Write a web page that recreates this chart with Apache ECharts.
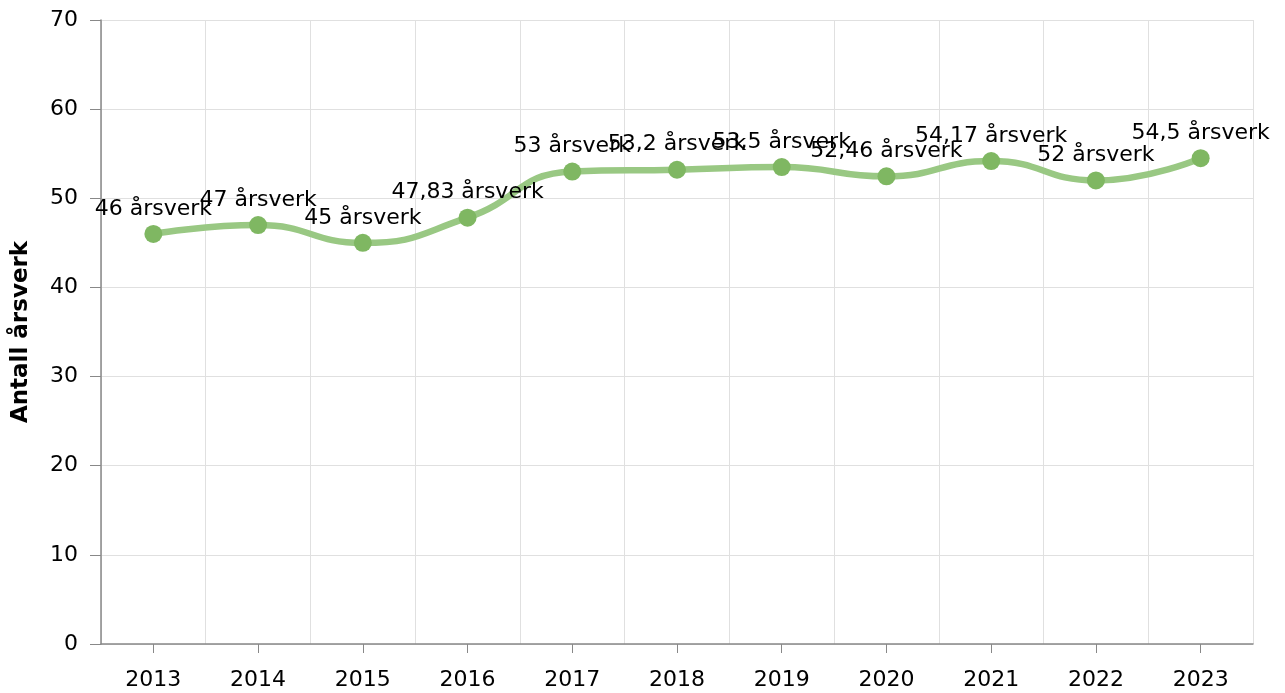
<!DOCTYPE html>
<html>
<head>
<meta charset="utf-8">
<script src="https://cdn.jsdelivr.net/npm/echarts@6/dist/echarts.min.js"></script>
<style>
  html, body { margin: 0; padding: 0; background: #fff; }
  #chart { width: 1285px; height: 693px; }
</style>
</head>
<body>
<div id="chart"></div>
<script>
const years = ['2013', '2014', '2015', '2016', '2017', '2018', '2019', '2020', '2021', '2022', '2023'];
const arsverk = [46, 47, 45, 47.83, 53, 53.2, 53.5, 52.46, 54.17, 52, 54.5];
const yTicks = [0, 10, 20, 30, 40, 50, 60, 70];

const font = 'DejaVu Sans, Verdana, sans-serif';
const chart = echarts.init(document.getElementById('chart'));

const option = {
  animation: false,
  grid: { left: 101, right: 32, top: 20, bottom: 49 },
  xAxis: {
    type: 'category',
    data: years,
    boundaryGap: true,
    axisLine: { lineStyle: { color: '#888', width: 1.5 } },
    axisTick: { show: true, alignWithLabel: true, length: 9, lineStyle: { color: '#888' } },
    axisLabel: { color: '#000', fontFamily: font, fontSize: 22, margin: 25 },
    splitLine: { show: true, lineStyle: { color: '#e0e0e0' } }
  },
  yAxis: {
    type: 'value',
    min: yTicks[0],
    max: yTicks[yTicks.length - 1],
    interval: 10,
    name: 'Antall årsverk',
    nameLocation: 'middle',
    nameGap: 68,
    nameTextStyle: { color: '#000', fontFamily: font, fontSize: 23, fontWeight: 'bold' },
    axisLine: { show: true, lineStyle: { color: '#888', width: 1.5 } },
    axisTick: { show: true, length: 11, lineStyle: { color: '#888' } },
    axisLabel: { color: '#000', fontFamily: font, fontSize: 22, margin: 23 },
    splitLine: { show: true, lineStyle: { color: '#e0e0e0' } }
  },
  series: [{
    type: 'line',
    data: arsverk,
    smooth: true,
    symbol: 'circle',
    symbolSize: 18,
    lineStyle: { color: '#99c883', width: 6.5 },
    itemStyle: { color: '#7fb762' },
    label: {
      show: true,
      position: 'top',
      distance: 5,
      color: '#000',
      fontFamily: font,
      fontSize: 22,
      formatter: p => String(p.value).replace('.', ',') + ' årsverk'
    }
  }]
};
chart.setOption(option);
</script>
</body>
</html>
